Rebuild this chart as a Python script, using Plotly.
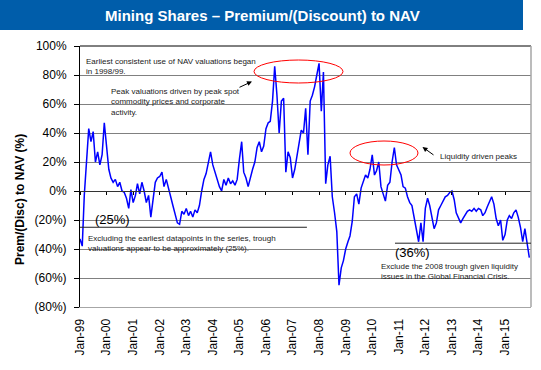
import pandas as pd
import plotly.graph_objects as go

# ---------------- data (monthly premium / discount to NAV, %) ----------------
v1999 = [-33, -38, -3, 22, 43, 34, 41, 20, 27, 18, 25, 47]
v2000 = [28, 15, 9, 6, 8, 3, 6, 0, -1, -5, -12, 1]
v2001 = [-8, -3, 5, -2, 6, 0, -8, -3, -18, -4, 6, 9]
v2002 = [10, 13, 3, 8, 1, -4, -10, -17, -22, -23, -14, -16]
v2003 = [-12, -17, -14, -18, -13, -15, -10, 0, 8, 12, 19, 27]
v2004 = [18, 13, 9, 3, 0, 8, 4, 9, 5, 7, 4, 8]
v2005 = [22, 34, 13, 9, 3, 10, 15, 20, 30, 34, 27, 31]
v2006 = [43, 47, 48, 62, 86, 66, 40, 62, 64, 13, 27, 23]
v2007 = [9, 15, 24, 34, 42, 40, 57, 25, 62, 66, 72, 80]
v2008 = [88, 55, 82, 5, 18, 24, -4, -15, -28, -65, -53, -48]
v2009 = [-40, -35, -31, -21, -4, -2, -9, 2, 6, 11, 9, 15]
v2010 = [25, 11, 14, 20, 3, -3, -7, 4, 6, 20, 30, 18]
v2011 = [14, 11, 3, 2, -4, -8, -10, -19, -26, -35, -22, -35]
v2012 = [-12, -5, -10, -18, -26, -22, -13, -10, -7, -4, -3, -1]
v2013 = [0, -6, -15, -19, -22, -19, -16, -14, -13, -14, -12, -14]
v2014 = [-12, -13, -17, -15, -11, -7, -4, -9, -19, -24, -20, -34]
v2015 = [-30, -20, -17, -19, -15, -13, -18, -25, -35, -26, -37, -46]

x_tick_labels = ["Jan-%02d" % (y % 100) for y in range(1999, 2016)]
x_tick_dates = ["%d-01-01" % y for y in range(1999, 2016)]
y_tick_vals = [100, 80, 60, 40, 20, 0, -20, -40, -60, -80]
y_tick_labels = ["100%", "80%", "60%", "40%", "20%", "0%",
                 "(20%)", "(40%)", "(60%)", "(80%)"]

trough_early = -25
trough_late = -36

values = (v1999 + v2000 + v2001 + v2002 + v2003 + v2004 + v2005 + v2006 +
          v2007 + v2008 + v2009 + v2010 + v2011 + v2012 + v2013 + v2014 + v2015)
dates = pd.date_range("1999-01-01", periods=len(values), freq="MS")

# ---------------- layout geometry ----------------
W, H = 541, 370
ML, MR, MT, MB = 80, 10, 46, 63
PW, PH = W - ML - MR, H - MT - MB


def px(p):
    return (p - ML) / PW


def py(p):
    return (H - MB - p) / PH


FONT = "Liberation Sans, Arial, sans-serif"
BLUE = "#0000FF"

fig = go.Figure()
fig.add_trace(go.Scatter(x=dates, y=values, mode="lines",
                         line=dict(color=BLUE, width=1.5),
                         showlegend=False, hoverinfo="skip"))
# invisible trace for the secondary (zero-crossing) x axis
fig.add_trace(go.Scatter(x=[dates[0]], y=[0], xaxis="x2", mode="markers",
                         marker=dict(opacity=0), showlegend=False,
                         hoverinfo="skip"))

x_range = ["1999-01-01", "2015-12-24"]

fig.update_layout(
    width=W, height=H,
    margin=dict(l=ML, r=MR, t=MT, b=MB, autoexpand=False),
    paper_bgcolor="white", plot_bgcolor="white",
    font=dict(family=FONT, color="black"),
    xaxis=dict(type="date", range=x_range, tickvals=x_tick_dates,
               ticktext=x_tick_labels, tickangle=-90, ticks="",
               tickfont=dict(size=12), showgrid=False, zeroline=False,
               showline=True, linecolor="#a6a6a6", linewidth=1,
               ticklabelstandoff=6, automargin=False),
    xaxis2=dict(type="date", range=x_range, overlaying="x", anchor="free",
                position=80 / 180, tickvals=x_tick_dates, showticklabels=False,
                ticks="outside", ticklen=3, tickcolor="black",
                showline=True, linecolor="#333333", linewidth=1,
                showgrid=False, zeroline=False),
    yaxis=dict(range=[-80, 100], tickvals=y_tick_vals, ticktext=y_tick_labels,
               tickfont=dict(size=12), ticks="outside", ticklen=5,
               tickcolor="black", showline=True, linecolor="black",
               linewidth=1, showgrid=True, gridcolor="#808080", gridwidth=1,
               zeroline=False, automargin=False, ticklabelstandoff=5),
)

shapes = []
# title bar
shapes.append(dict(type="rect", xref="paper", yref="paper",
                   x0=px(0), x1=px(523), y0=py(30), y1=py(0),
                   fillcolor="#005DAA", line=dict(width=0), layer="below"))
# frame: top black, right gray
shapes.append(dict(type="line", xref="paper", yref="paper",
                   x0=0, x1=1, y0=1, y1=1, line=dict(color="black", width=1)))
shapes.append(dict(type="line", xref="paper", yref="paper",
                   x0=1, x1=1, y0=0, y1=1, line=dict(color="#a6a6a6", width=1.5)))
# trough reference lines
shapes.append(dict(type="line", xref="x", yref="y",
                   x0="1999-01-01", x1="2007-07-18",
                   y0=trough_early, y1=trough_early,
                   line=dict(color="#222222", width=1)))
shapes.append(dict(type="line", xref="x", yref="y",
                   x0="2010-11-10", x1=x_range[1],
                   y0=trough_late, y1=trough_late,
                   line=dict(color="#222222", width=1)))
# red ellipses
shapes.append(dict(type="circle", xref="paper", yref="paper",
                   x0=px(254), x1=px(343), y0=py(83), y1=py(60),
                   line=dict(color="#FF0000", width=1)))
shapes.append(dict(type="circle", xref="paper", yref="paper",
                   x0=px(350), x1=px(418), y0=py(165), y1=py(141),
                   line=dict(color="#FF0000", width=1)))
fig.update_layout(shapes=shapes)

anns = []
anns.append(dict(text="<b>Mining Shares \u2013 Premium/(Discount) to NAV</b>",
                 xref="paper", yref="paper", x=px(262), y=py(15),
                 xanchor="center", yanchor="middle", showarrow=False,
                 font=dict(size=15, color="white", family=FONT)))
anns.append(dict(text="<b>Prem/(Disc) to NAV (%)</b>", xref="paper",
                 yref="paper", x=px(20), y=py(200), textangle=-90,
                 xanchor="center", yanchor="middle", showarrow=False,
                 font=dict(size=12, color="black", family=FONT)))

small = dict(size=8, color="#1a1a1a", family=FONT)


def note(text, x, y, font=small, yanchor="top"):
    anns.append(dict(text=text, xref="paper", yref="paper", x=px(x), y=py(y),
                     xanchor="left", yanchor=yanchor, align="left",
                     showarrow=False, font=font, borderpad=0))


note("Earliest consistent use of NAV valuations began<br>in 1998/99.", 85, 56)
note("Peak valuations driven by peak spot<br>commodity prices and corporate<br>activity.", 110, 86)
note("Excluding the earliest datapoints in the series, trough<br>valuations appear to be approximately (25%).", 87, 232.5)
note("Exclude the 2008 trough given liquidity<br>issues in the Global Financial Crisis.", 380, 261)
note("Liquidity driven peaks", 439, 156.5, yanchor="middle")
big = dict(size=13, color="black", family=FONT)
note("(25%)", 94, 219, font=big, yanchor="middle")
note("(36%)", 394, 252.5, font=big, yanchor="middle")

# arrows
anns.append(dict(text="", xref="paper", yref="paper", x=px(252), y=py(81.5),
                 ax=-14, ay=6.5, showarrow=True, arrowhead=2, arrowsize=1,
                 arrowwidth=1, arrowcolor="black"))
anns.append(dict(text="", xref="paper", yref="paper", x=px(422.5), y=py(147),
                 ax=12.5, ay=9, showarrow=True, arrowhead=2, arrowsize=1,
                 arrowwidth=1, arrowcolor="black"))
fig.update_layout(annotations=anns)

fig.write_html("out.html", config={"displayModeBar": False},
               post_script="document.body.style.margin='0px';")
